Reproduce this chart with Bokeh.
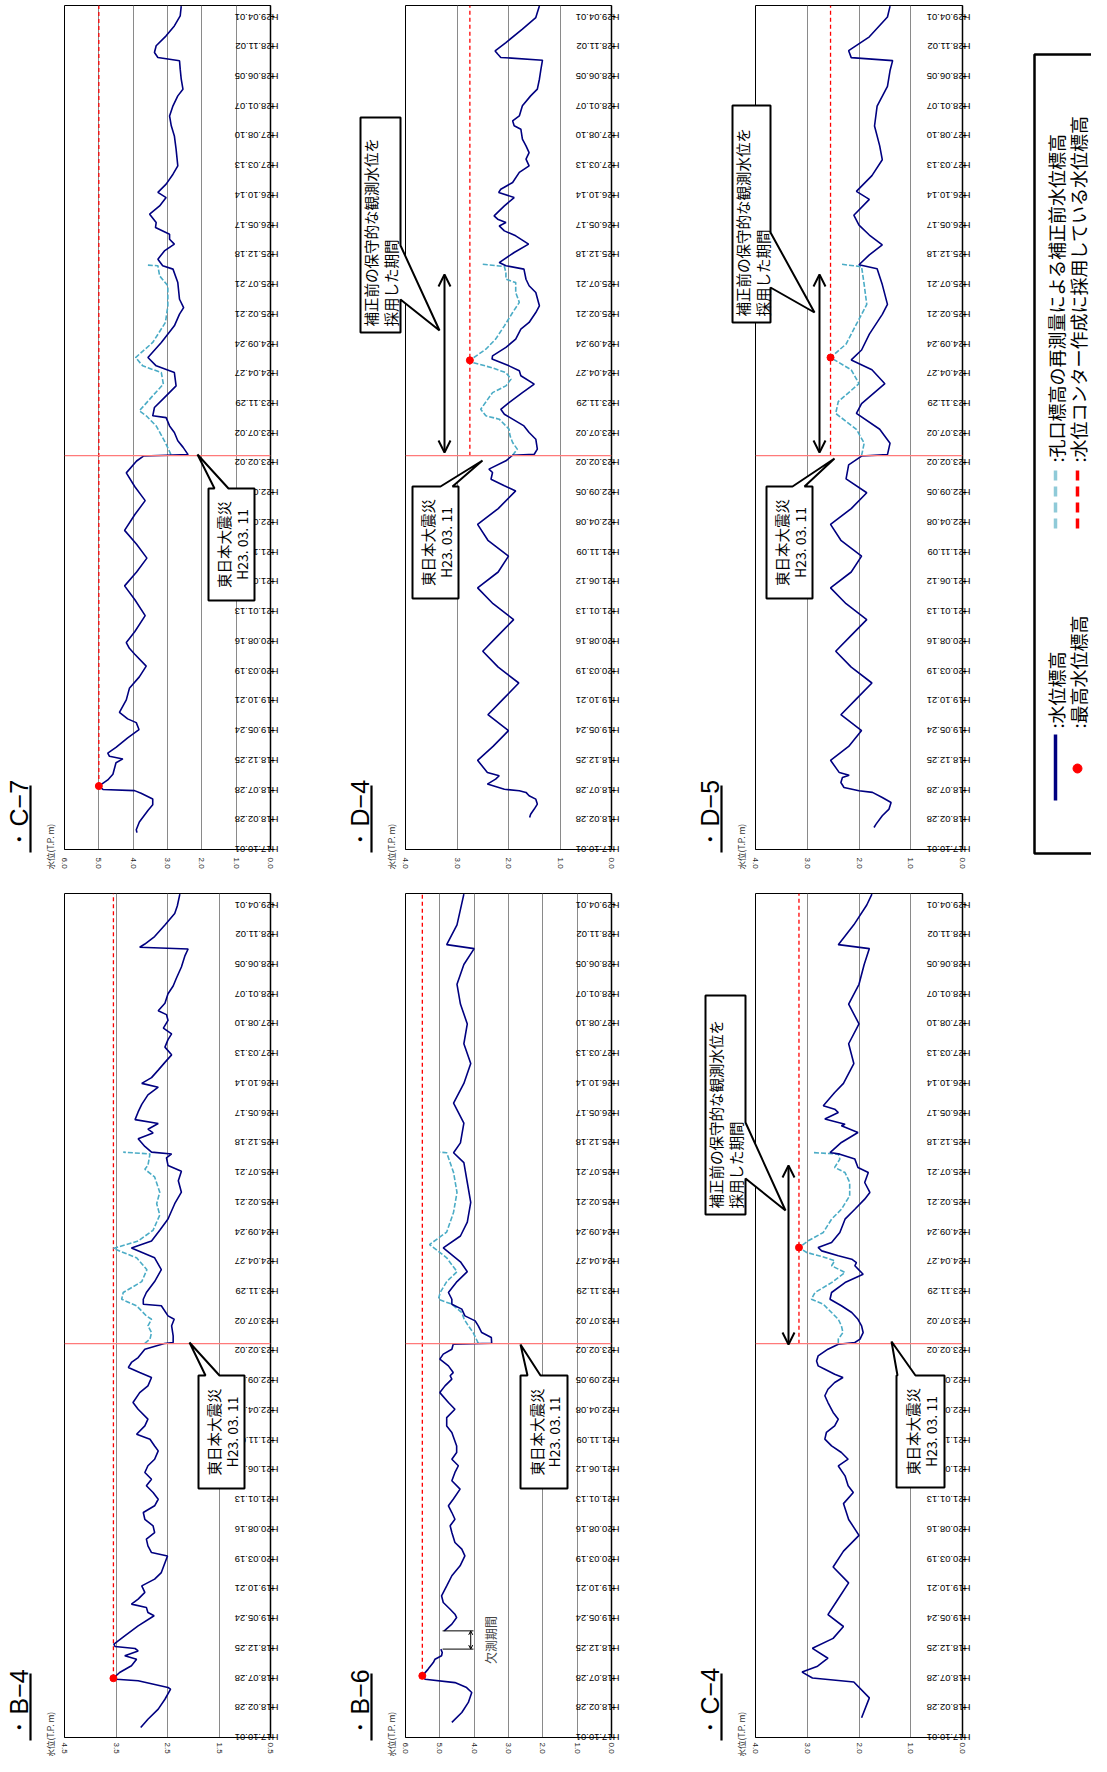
import math
from bokeh.plotting import figure
from bokeh.layouts import row, column
from bokeh.models import (Range1d, FixedTicker, NumeralTickFormatter, Span, Label,
                          Arrow, OpenHead, GridBox)
from bokeh.embed import file_html
from bokeh.resources import INLINE

# ---------------- data (days counted from H17.10.01) ----------------
DAY_END = 4258
EQ_DAY = 1987
DATE_TICKS = [i * 150 for i in range(29)]
DATE_LABELS = ["H17.10.01", "H18.02.28", "H18.07.28", "H18.12.25", "H19.05.24", "H19.10.21",
               "H20.03.19", "H20.08.16", "H21.01.13", "H21.06.12", "H21.11.09", "H22.04.08",
               "H22.09.05", "H23.02.02", "H23.07.02", "H23.11.29", "H24.04.27", "H24.09.24",
               "H25.02.21", "H25.07.21", "H25.12.18", "H26.05.17", "H26.10.14", "H27.03.13",
               "H27.08.10", "H28.01.07", "H28.06.05", "H28.11.02", "H29.04.01"]

# C-7
C7_DAYS = [85, 100, 139, 197, 226, 255, 284, 297, 303, 320, 351, 380, 438, 457, 470, 486, 515, 563,
           605, 640, 659, 692, 755, 813, 871, 925, 986, 1015, 1044, 1100, 1180, 1260, 1330, 1400,
           1470, 1540, 1610, 1690, 1760, 1830, 1900, 1960, 1985, 1992, 2030, 2062, 2104, 2137,
           2179, 2188, 2230, 2280, 2339, 2406, 2440, 2482, 2558, 2642, 2701, 2734, 2776, 2860,
           2928, 2945, 2978, 3020, 3054, 3079, 3104, 3138, 3163, 3205, 3247, 3289, 3315, 3357,
           3407, 3449, 3533, 3600, 3651, 3701, 3752, 3802, 3836, 3886, 3937, 3979, 3996, 4021,
           4055, 4105, 4155, 4206, 4255]
C7_LEVEL = [3.89, 3.91, 3.82, 3.57, 3.43, 3.43, 3.77, 3.96, 4.88, 5.00, 4.74, 4.59, 4.50, 4.30,
            4.69, 4.74, 4.50, 4.16, 3.83, 3.91, 4.16, 4.40, 4.20, 4.11, 3.82, 3.62, 3.96, 4.11,
            4.20, 3.95, 3.65, 3.95, 4.25, 3.90, 3.60, 3.90, 4.25, 3.95, 3.65, 3.95, 4.20, 3.90,
            3.70, 2.40, 2.55, 2.70, 2.80, 2.94, 3.04, 3.43, 3.38, 3.09, 2.75, 2.80, 3.33, 3.57,
            3.18, 2.80, 2.65, 2.53, 2.65, 2.70, 2.84, 3.14, 3.28, 3.09, 2.80, 2.94, 2.94, 3.35,
            3.33, 3.52, 3.23, 3.04, 3.28, 3.04, 2.84, 2.70, 2.75, 2.80, 2.89, 2.94, 2.84, 2.70,
            2.55, 2.60, 2.63, 2.65, 3.28, 3.38, 3.33, 3.04, 2.80, 2.63, 2.60]
C7_PRE_DAYS = [1992, 2030, 2062, 2137, 2188, 2213, 2289, 2348, 2406, 2440, 2482, 2558, 2659,
               2743, 2844, 2894, 2945, 2948]
C7_PRE_LEVEL = [2.90, 3.00, 3.09, 3.33, 3.62, 3.82, 3.43, 3.12, 3.18, 3.72, 3.93, 3.43, 3.06,
                2.99, 2.99, 3.23, 3.28, 3.57]
C7_MAX_DAY, C7_MAX_LEVEL, C7_DASH_FROM = 320, 5.00, 320

# B-4
B4_DAYS = [50, 92, 143, 193, 244, 252, 286, 294, 299, 328, 362, 395, 412, 437, 449, 459, 471, 513,
           563, 614, 631, 656, 673, 698, 732, 765, 799, 832, 916, 933, 967, 1001, 1034, 1068, 1101,
           1135, 1169, 1202, 1236, 1270, 1303, 1337, 1371, 1404, 1446, 1471, 1505, 1530, 1572,
           1606, 1656, 1690, 1740, 1774, 1816, 1841, 1867, 1892, 1917, 1959, 1988, 1993, 2026,
           2077, 2110, 2127, 2178, 2186, 2211, 2245, 2300, 2360, 2420, 2470, 2505, 2559, 2616,
           2693, 2751, 2809, 2857, 2886, 2924, 2944, 2953, 2982, 3021, 3050, 3069, 3098, 3117,
           3156, 3194, 3242, 3281, 3300, 3329, 3367, 3406, 3444, 3483, 3521, 3550, 3579, 3618,
           3647, 3666, 3704, 3752, 3791, 3829, 3887, 3945, 3978, 3987, 4003, 4041, 4099, 4157,
           4195, 4255]
B4_LEVEL = [3.02, 2.88, 2.68, 2.55, 2.44, 2.49, 3.07, 3.49, 3.55, 3.43, 3.20, 3.10, 3.33, 3.07,
            3.13, 3.52, 3.54, 3.33, 3.07, 2.76, 2.88, 2.91, 3.20, 3.07, 2.94, 3.00, 2.75, 2.62,
            2.50, 2.81, 2.88, 2.91, 2.75, 2.78, 2.94, 2.97, 2.75, 2.68, 2.78, 2.91, 2.81, 2.94,
            2.88, 2.75, 2.68, 2.75, 2.84, 3.10, 2.94, 2.88, 3.07, 3.17, 3.04, 2.88, 2.81, 3.04,
            3.26, 3.20, 3.07, 2.94, 2.56, 2.39, 2.39, 2.42, 2.37, 2.49, 2.62, 2.97, 2.97, 2.91,
            2.75, 2.62, 2.75, 3.20, 2.81, 2.65, 2.49, 2.36, 2.23, 2.29, 2.23, 2.49, 2.52, 2.42,
            2.81, 2.94, 3.07, 2.78, 2.88, 2.68, 3.13, 3.07, 3.00, 2.88, 2.68, 3.00, 2.81, 2.68,
            2.55, 2.42, 2.55, 2.49, 2.42, 2.58, 2.49, 2.52, 2.68, 2.55, 2.49, 2.39, 2.33, 2.23,
            2.16, 2.10, 3.04, 2.94, 2.75, 2.55, 2.36, 2.31, 2.26]
B4_PRE_DAYS = [1988, 2010, 2043, 2077, 2110, 2127, 2178, 2211, 2245, 2300, 2360, 2420, 2467,
               2505, 2559, 2636, 2693, 2751, 2828, 2867, 2886, 2944, 2953]
B4_PRE_LEVEL = [2.94, 2.84, 2.81, 2.88, 2.81, 2.91, 3.10, 3.39, 3.36, 3.00, 2.90, 3.10, 3.55,
                3.07, 2.78, 2.65, 2.71, 2.65, 2.75, 2.94, 2.88, 2.84, 3.36]
B4_MAX_DAY, B4_MAX_LEVEL, B4_DASH_FROM = 299, 3.55, 299

# D-4
D4_DAYS = [161, 178, 204, 229, 254, 271, 288, 296, 304, 330, 355, 372, 388, 450, 520, 600, 680,
           760, 840, 920, 1000, 1080, 1160, 1240, 1320, 1400, 1480, 1560, 1640, 1720, 1809, 1835,
           1868, 1902, 1919, 1961, 1989, 1994, 2020, 2070, 2104, 2137, 2196, 2221, 2255, 2305,
           2348, 2390, 2415, 2440, 2474, 2490, 2533, 2575, 2625, 2659, 2709, 2743, 2810, 2844,
           2877, 2928, 2945, 2961, 3012, 3054, 3096, 3121, 3146, 3163, 3180, 3197, 3247, 3289,
           3315, 3331, 3365, 3416, 3449, 3483, 3516, 3550, 3584, 3634, 3651, 3676, 3701, 3752,
           3802, 3836, 3886, 3937, 3982, 3996, 4013, 4029, 4071, 4139, 4197, 4223, 4255]
D4_LEVEL = [1.59, 1.57, 1.50, 1.44, 1.47, 1.60, 1.66, 1.79, 2.08, 2.41, 2.25, 2.18, 2.41, 2.60,
            2.30, 2.00, 2.40, 2.10, 1.80, 2.20, 2.50, 2.20, 1.90, 2.30, 2.60, 2.20, 2.00, 2.40,
            2.60, 2.20, 1.86, 2.08, 2.34, 2.31, 2.38, 2.05, 1.92, 1.50, 1.44, 1.47, 1.60, 1.70,
            2.08, 2.15, 1.99, 1.73, 1.50, 1.76, 1.79, 1.99, 2.32, 2.31, 2.05, 1.86, 1.76, 1.60,
            1.47, 1.40, 1.47, 1.60, 1.66, 1.70, 2.05, 2.18, 1.89, 1.61, 1.86, 2.08, 2.18, 2.05,
            2.21, 2.28, 2.08, 1.89, 2.19, 2.15, 1.92, 1.79, 1.60, 1.66, 1.60, 1.66, 1.73, 1.76,
            1.89, 1.92, 1.79, 1.73, 1.57, 1.44, 1.40, 1.37, 1.34, 2.15, 2.21, 2.26, 2.05, 1.73,
            1.47, 1.44, 1.40]
D4_PRE_DAYS = [1989, 2020, 2053, 2087, 2121, 2171, 2188, 2221, 2305, 2339, 2373, 2406, 2432,
               2457, 2468, 2524, 2575, 2642, 2709, 2760, 2810, 2860, 2877, 2911, 2941, 2953]
D4_PRE_LEVEL = [1.92, 1.83, 1.92, 1.97, 1.99, 2.18, 2.44, 2.54, 2.31, 2.05, 1.95, 2.05, 2.34,
                2.70, 2.75, 2.44, 2.25, 2.08, 1.92, 1.79, 1.86, 1.86, 2.05, 2.05, 2.08, 2.50]
D4_MAX_DAY, D4_MAX_LEVEL, D4_DASH_FROM = 2468, 2.75, 1987

# B-6
B6_DAYS = [76, 126, 177, 227, 252, 277, 294, 311, 345, 378, 395, 412, 429, 446, 492, 538, 572,
           605, 622, 647, 681, 715, 765, 816, 866, 916, 950, 984, 1034, 1068, 1101, 1135, 1169,
           1202, 1253, 1295, 1337, 1371, 1404, 1438, 1471, 1505, 1539, 1572, 1614, 1656, 1690,
           1740, 1774, 1808, 1825, 1841, 1875, 1909, 1934, 1959, 1984, 1989, 2018, 2043, 2077,
           2102, 2127, 2161, 2186, 2211, 2245, 2300, 2350, 2400, 2470, 2530, 2600, 2700, 2800,
           2900, 2950, 3000, 3100, 3200, 3300, 3400, 3500, 3600, 3700, 3800, 3900, 3980, 4000,
           4100, 4255]
B6_LEVEL = [4.65, 4.36, 4.17, 4.07, 4.22, 4.56, 5.43, 5.51, 5.34, 5.19, 5.14, 4.95, 4.93, 4.97,
            float("nan"), 4.87, 4.65, 4.51, 4.56, 4.70, 4.90, 4.95, 4.80, 4.65, 4.41, 4.27, 4.36,
            4.56, 4.65, 4.70, 4.56, 4.65, 4.75, 4.61, 4.41, 4.65, 4.56, 4.46, 4.65, 4.51, 4.51,
            4.58, 4.65, 4.80, 4.80, 4.56, 4.75, 5.00, 4.85, 4.65, 4.70, 4.61, 4.75, 5.00, 4.90,
            4.65, 4.61, 3.49, 3.50, 3.78, 3.88, 3.97, 4.27, 4.36, 4.65, 4.65, 4.75, 4.50, 4.20,
            4.40, 4.90, 4.40, 4.20, 4.10, 4.20, 4.30, 4.60, 4.40, 4.30, 4.60, 4.30, 4.10, 4.30,
            4.20, 4.40, 4.50, 4.30, 4.00, 4.80, 4.50, 4.30]
B6_PRE_DAYS = [1989, 2043, 2077, 2110, 2144, 2186, 2211, 2245, 2300, 2350, 2420, 2487, 2550,
               2650, 2750, 2850, 2950, 2953]
B6_PRE_LEVEL = [3.88, 4.03, 4.17, 4.29, 4.36, 4.65, 5.04, 4.99, 4.80, 4.50, 4.80, 5.30, 4.80,
                4.60, 4.50, 4.60, 4.80, 5.00]
B6_MAX_DAY, B6_MAX_LEVEL, B6_DASH_FROM = 311, 5.51, 311
B6_GAP = (446, 538)

# D-5
D5_DAYS = [111, 128, 170, 204, 237, 262, 288, 296, 313, 338, 363, 375, 388, 450, 520, 600, 680,
           760, 840, 920, 1000, 1080, 1160, 1240, 1320, 1400, 1480, 1560, 1640, 1720, 1800, 1870,
           1940, 1985, 1992, 2050, 2120, 2200, 2250, 2350, 2420, 2470, 2520, 2600, 2700, 2750,
           2850, 2930, 2950, 3000, 3050, 3100, 3150, 3200, 3280, 3320, 3400, 3480, 3550, 3650,
           3750, 3850, 3930, 3980, 3995, 4030, 4100, 4200, 4255]
D5_LEVEL = [1.71, 1.67, 1.55, 1.42, 1.38, 1.55, 1.74, 2.00, 2.29, 2.35, 2.32, 2.19, 2.38, 2.55,
            2.20, 1.95, 2.35, 2.05, 1.75, 2.15, 2.45, 2.15, 1.85, 2.25, 2.55, 2.15, 1.95, 2.35,
            2.55, 2.15, 1.85, 2.25, 2.20, 1.95, 1.45, 1.40, 1.60, 2.05, 1.95, 1.50, 1.75, 2.15,
            1.95, 1.80, 1.55, 1.45, 1.55, 1.65, 2.00, 1.80, 1.55, 1.80, 2.00, 2.10, 1.80, 2.05,
            1.75, 1.55, 1.60, 1.70, 1.65, 1.45, 1.40, 1.35, 2.15, 2.20, 1.80, 1.45, 1.40]
D5_PRE_DAYS = [1988, 2050, 2120, 2200, 2260, 2350, 2420, 2482, 2550, 2650, 2750, 2850, 2940, 2953]
D5_PRE_LEVEL = [1.95, 1.90, 2.05, 2.45, 2.40, 2.00, 2.15, 2.55, 2.25, 2.05, 1.85, 1.90, 1.95, 2.35]
D5_MAX_DAY, D5_MAX_LEVEL, D5_DASH_FROM = 2482, 2.55, 1987

# C-4
C4_DAYS = [100, 200, 280, 300, 330, 360, 400, 450, 500, 560, 620, 700, 780, 860, 940, 1020, 1100,
           1180, 1236, 1270, 1320, 1370, 1404, 1438, 1471, 1505, 1539, 1572, 1606, 1640, 1690,
           1724, 1757, 1791, 1816, 1833, 1858, 1875, 1900, 1925, 1959, 1984, 1993, 2010, 2043,
           2077, 2110, 2144, 2178, 2211, 2245, 2295, 2337, 2380, 2396, 2413, 2430, 2455, 2472,
           2497, 2548, 2615, 2665, 2716, 2750, 2800, 2850, 2876, 2918, 2943, 2951, 3002, 3052,
           3086, 3094, 3120, 3153, 3170, 3187, 3254, 3300, 3400, 3500, 3600, 3700, 3800, 3900,
           3980, 4000, 4100, 4200, 4255]
C4_LEVEL = [1.95, 1.80, 2.10, 2.90, 3.10, 2.80, 2.60, 2.90, 2.50, 2.30, 2.60, 2.40, 2.20, 2.50,
            2.30, 2.00, 2.20, 2.30, 2.11, 2.21, 2.27, 2.40, 2.21, 2.34, 2.53, 2.66, 2.63, 2.47,
            2.40, 2.50, 2.60, 2.66, 2.60, 2.47, 2.31, 2.47, 2.66, 2.79, 2.82, 2.79, 2.60, 2.40,
            2.08, 1.98, 1.92, 1.95, 2.02, 2.14, 2.34, 2.56, 2.53, 2.27, 1.92, 2.08, 2.05, 2.14,
            2.40, 2.72, 2.79, 2.53, 2.37, 2.27, 2.08, 1.89, 1.79, 1.89, 1.82, 2.02, 2.08, 2.37,
            2.56, 2.34, 2.02, 2.34, 2.27, 2.66, 2.40, 2.47, 2.69, 2.47, 2.30, 2.10, 2.20, 2.00,
            2.20, 2.00, 1.90, 1.80, 2.40, 2.10, 1.85, 1.75]
C4_PRE_DAYS = [1988, 2010, 2043, 2077, 2110, 2144, 2186, 2211, 2245, 2295, 2346, 2380, 2405,
               2422, 2447, 2472, 2506, 2548, 2615, 2665, 2733, 2800, 2850, 2876, 2918, 2943, 2951]
C4_PRE_LEVEL = [2.40, 2.40, 2.31, 2.34, 2.40, 2.53, 2.69, 2.92, 2.85, 2.53, 2.27, 2.53, 2.47,
                2.66, 3.01, 3.16, 2.98, 2.69, 2.53, 2.34, 2.18, 2.18, 2.27, 2.47, 2.37, 2.40, 2.89]
C4_MAX_DAY, C4_MAX_LEVEL, C4_DASH_FROM = 2472, 3.16, 1987

# ---------------- styling / layout ----------------
JP = "Noto Sans CJK JP"
LAT = "Liberation Sans"
NAVY = "#000080"
CYAN = "#4bacc6"
RED = "#ff0000"
QUAKE = "#ff7a7a"
GRID = "#8a8a8a"
PAGE_W, PAGE_H = 1091, 1756

COLS = {1: dict(x=8, w=337, fl=72, fw=206),
        2: dict(x=345, w=355, fl=413, fw=206),
        3: dict(x=700, w=335, fl=763, fw=207)}
ROWS = {0: dict(y=8, h=882, ft=13, fh=844, std=8),
        1: dict(y=890, h=874, ft=901, fh=844, std=5)}


def make_panel(col, rw, vmax, vmin, days, level, pdays, plevel, mday, mlevel, dfrom):
    c, r = COLS[col], ROWS[rw]
    fl, fw, ft, fh = c["fl"], c["fw"], r["ft"], r["fh"]
    p = figure(width=c["w"], height=r["h"], x_range=Range1d(vmax, vmin),
               y_range=Range1d(0, DAY_END), y_axis_location="right", title=None,
               toolbar_location=None, output_backend="svg",
               min_border_left=fl - c["x"], min_border_right=c["x"] + c["w"] - fl - fw,
               min_border_top=ft - r["y"], min_border_bottom=r["y"] + r["h"] - ft - fh)
    p.background_fill_color = "white"
    p.border_fill_color = "white"
    p.outline_line_color = "black"
    p.outline_line_width = 1

    ticks = [round(vmin + i * 1.0, 2) for i in range(int(round(vmax - vmin)) + 1)]
    p.xaxis.ticker = FixedTicker(ticks=ticks)
    p.xaxis.formatter = NumeralTickFormatter(format="0.0")
    p.xaxis.major_label_orientation = "vertical"
    p.xaxis.major_tick_out = 0
    p.xaxis.major_tick_in = 0
    p.xaxis.minor_tick_out = 0
    p.xaxis.minor_tick_in = 0
    p.xaxis.major_label_standoff = r["std"]
    p.xaxis.major_label_text_font = LAT
    p.xaxis.major_label_text_font_size = "8px"
    p.xaxis.major_label_text_color = "#222222"
    p.xaxis.axis_line_color = "black"
    p.xgrid.ticker = FixedTicker(ticks=ticks)
    p.xgrid.grid_line_color = GRID
    p.xgrid.grid_line_width = 1
    p.ygrid.visible = False

    p.yaxis.ticker = FixedTicker(ticks=DATE_TICKS)
    p.yaxis.major_label_overrides = dict(zip(DATE_TICKS, DATE_LABELS))
    p.yaxis.major_label_orientation = -math.pi
    p.yaxis.major_tick_out = 4
    p.yaxis.major_tick_in = 0
    p.yaxis.minor_tick_out = 0
    p.yaxis.minor_tick_in = 0
    p.yaxis.major_label_standoff = 4
    p.yaxis.major_label_text_font = LAT
    p.yaxis.major_label_text_font_size = "9.5px"
    p.yaxis.major_label_text_color = "black"
    p.yaxis.axis_line_color = "black"
    p.yaxis.axis_line_width = 1.5

    p.line([mlevel, mlevel], [dfrom, DAY_END], line_color=RED, line_dash="4 3", line_width=1.3)
    p.add_layout(Span(location=EQ_DAY, dimension="width", line_color=QUAKE, line_width=1.4))
    p.line(plevel, pdays, line_color=CYAN, line_dash="5 2", line_width=1.6)
    p.line(level, days, line_color=NAVY, line_width=1.6)
    p.scatter([mlevel], [mday], size=7, color=RED)
    return p


c7 = make_panel(1, 0, 6.0, 0.0, C7_DAYS, C7_LEVEL, C7_PRE_DAYS, C7_PRE_LEVEL,
                C7_MAX_DAY, C7_MAX_LEVEL, C7_DASH_FROM)
d4 = make_panel(2, 0, 4.0, 0.0, D4_DAYS, D4_LEVEL, D4_PRE_DAYS, D4_PRE_LEVEL,
                D4_MAX_DAY, D4_MAX_LEVEL, D4_DASH_FROM)
d5 = make_panel(3, 0, 4.0, 0.0, D5_DAYS, D5_LEVEL, D5_PRE_DAYS, D5_PRE_LEVEL,
                D5_MAX_DAY, D5_MAX_LEVEL, D5_DASH_FROM)
b4 = make_panel(1, 1, 4.5, 0.5, B4_DAYS, B4_LEVEL, B4_PRE_DAYS, B4_PRE_LEVEL,
                B4_MAX_DAY, B4_MAX_LEVEL, B4_DASH_FROM)
b6 = make_panel(2, 1, 6.0, 0.0, B6_DAYS, B6_LEVEL, B6_PRE_DAYS, B6_PRE_LEVEL,
                B6_MAX_DAY, B6_MAX_LEVEL, B6_DASH_FROM)
c4 = make_panel(3, 1, 4.0, 0.0, C4_DAYS, C4_LEVEL, C4_PRE_DAYS, C4_PRE_LEVEL,
                C4_MAX_DAY, C4_MAX_LEVEL, C4_DASH_FROM)

# B-6 missing-measurement bracket (inside the frame, data coordinates)
b6.segment(x0=[4.92, 4.92], y0=list(B6_GAP), x1=[4.02, 4.02], y1=list(B6_GAP),
           line_color="black", line_width=1)
b6.add_layout(Arrow(x_start=4.1, y_start=B6_GAP[0], x_end=4.1, y_end=B6_GAP[1],
                    start=OpenHead(size=4, line_width=1), end=OpenHead(size=4, line_width=1),
                    line_width=1, line_color="black"))
b6.add_layout(Label(x=3.53, y=(B6_GAP[0] + B6_GAP[1]) / 2, text="欠測期間", angle=math.pi / 2,
                    text_align="center", text_baseline="middle", text_font=JP,
                    text_font_size="12px"))

# ---------------- transparent overlay for titles, callouts and legend ----------------
ov = figure(width=PAGE_W, height=PAGE_H, x_range=Range1d(8, 8 + PAGE_W),
            y_range=Range1d(8 + PAGE_H, 8), toolbar_location=None, output_backend="svg",
            x_axis_location=None, y_axis_location=None, min_border=0, title=None)
ov.grid.visible = False
ov.outline_line_color = None
ov.background_fill_color = None
ov.border_fill_color = None


def vtext(x, y, txt, size, align="left", font=JP, color="black"):
    ov.add_layout(Label(x=x, y=y, text=txt, angle=math.pi / 2, text_align=align,
                        text_baseline="middle", text_font=font, text_font_size=size,
                        text_color=color))


TITLES = [("・C−7", 1, 0), ("・D−4", 2, 0), ("・D−5", 3, 0),
          ("・B−4", 1, 1), ("・B−6", 2, 1), ("・C−4", 3, 1)]
for name, col, rw in TITLES:
    fl = COLS[col]["fl"]
    bot = ROWS[rw]["ft"] + ROWS[rw]["fh"]
    vtext(fl - 46, bot + 2, name, "25px", font=LAT)
    ov.line([fl - 34, fl - 34], [bot + 3, bot - 64], line_color="black", line_width=2.2)
    vtext(fl - 15, bot + 20, "水位(T.P. m)", "8.5px", color="#333333")


def callout_poly(pts):
    ov.patch([a for a, b in pts], [b for a, b in pts], fill_color="white", line_color="black",
             line_width=2)


def quake_box(l, r, t, b, b1, b2, tip):
    callout_poly([(l, t), (b1, t), tip, (b2, t), (r, t), (r, b), (l, b)])
    vtext((l + r) / 2 - 8, (t + b) / 2, "東日本大震災", "14.5px", align="center")
    vtext((l + r) / 2 + 10, (t + b) / 2, "H23. 03. 11", "14px", align="center")


def period_box(l, r, t, b, w1, w2, tip, ax, atop, abot):
    callout_poly([(l, t), (r, t), (r, w1), tip, (r, w2), (r, b), (l, b)])
    vtext(l + 10, b - 6, "補正前の保守的な観測水位を", "14.5px")
    vtext(l + 30, b - 6, "採用した期間", "14.5px")
    ov.add_layout(Arrow(x_start=ax, y_start=abot, x_end=ax, y_end=atop,
                        start=OpenHead(size=12, line_width=2), end=OpenHead(size=12, line_width=2),
                        line_width=2, line_color="black"))


quake_box(216, 262, 496, 608, 222, 236, (205, 462))
quake_box(420, 466, 494, 606, 448, 460, (490, 468))
quake_box(774, 820, 494, 606, 800, 812, (842, 466))
quake_box(206, 252, 1383, 1496, 213, 227, (197, 1350))
quake_box(528, 575, 1383, 1496, 535, 548, (528, 1352))
quake_box(904, 952, 1383, 1495, 905, 923, (899, 1349))

period_box(368, 408, 125, 340, 253, 307, (447, 338), 452, 282, 460)
period_box(740, 778, 113, 330, 240, 295, (822, 320), 827, 282, 460)
period_box(713, 753, 1003, 1222, 1130, 1186, (793, 1218), 796, 1173, 1352)

# legend
ov.line([1110, 1042, 1042, 1110], [62, 62, 861, 861], line_color="black", line_width=2.5)
ov.line([1063, 1063], [742, 808], line_color=NAVY, line_width=3.5)
ov.scatter([1085], [776], size=9, color=RED)
ov.line([1063, 1063], [478, 536], line_color="#8fcad8", line_width=3.5, line_dash="10 6")
ov.line([1085, 1085], [478, 536], line_color=RED, line_width=3.5, line_dash="10 6")
vtext(1063, 736, ":水位標高", "18px")
vtext(1085, 736, ":最高水位標高", "18px")
vtext(1063, 470, ":孔口標高の再測量による補正前水位標高", "18px")
vtext(1085, 470, ":水位コンター作成に採用している水位標高", "18px")

panels = column(row(c7, d4, d5, spacing=0), row(b4, b6, c4, spacing=0), spacing=0)
layout = GridBox(children=[(panels, 0, 0), (ov, 0, 0)])
open("out.html", "w").write(file_html(layout, INLINE))
